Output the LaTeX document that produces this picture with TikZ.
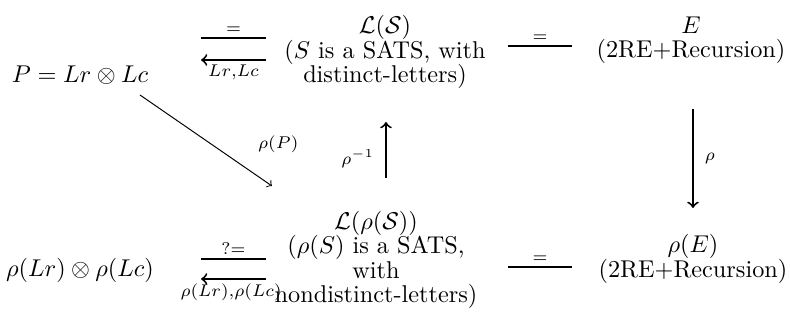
\documentclass[tikz,border=0pt]{standalone}
\usepackage{amsmath}
\begin{document}
\begin{tikzpicture}[x=0.412pt,y=-0.412pt,>=to,auto]

	% Define node styles
	\tikzstyle{term node} = [inner sep=1pt, align=center, font={\fontsize{10}{10.1}\selectfont}]
	\tikzstyle{tag node} = [inner sep=1.5pt, font=\scriptsize]
	\tikzstyle{bar} = [thick]
	\tikzstyle{map} = [thick, ->]

	\useasboundingbox (0,0) rectangle (790,325);

	% Place nodes for the four corners
	\node[term node] (P) at (80,75) {$P = Lr \otimes Lc$};
	\node[term node] (LS) at (385,52) {$\mathcal{L}(\mathcal{S})$\\($S$ is a SATS, with\\distinct-letters)};
	\node[term node] (E) at (691,40) {$E$\\(2RE+Recursion)};

	\node[term node] (rP) at (80,270) {$\rho(Lr) \otimes \rho(Lc)$};
	\node[term node] (rLS) at (376,260) {$\mathcal{L}(\rho(\mathcal{S}))$\\($\rho(S)$ is a SATS,\\with\\nondistinct-letters)};
	\node[term node] (rE) at (693,259) {$\rho(E)$\\(2RE+Recursion)};

	% End points of the short bars
	\coordinate (topA) at (201,38);  \coordinate (topB) at (266,38);
	\coordinate (topC) at (201,60);  \coordinate (topD) at (266,60);
	\coordinate (topE) at (508,46);  \coordinate (topF) at (572,46);
	\coordinate (botA) at (201,259); \coordinate (botB) at (266,259);
	\coordinate (botC) at (201,279); \coordinate (botD) at (266,279);
	\coordinate (botE) at (508,267); \coordinate (botF) at (572,267);

	% Draw the bars between the corners
	\draw[bar] (topA) -- node[tag node, above] {$=$} (topB);
	\draw[map] (topD) -- node[tag node, below] {$Lr{,}Lc$} (topC);
	\draw[bar] (topE) -- node[tag node, above] {$=$} (topF);

	\draw[bar] (botA) -- node[tag node, above] {$?{=}$} (botB);
	\draw[map] (botD) -- node[tag node, below, xshift=-1pt] {$\rho(Lr){,}\rho(Lc)$} (botC);
	\draw[bar] (botE) -- node[tag node, above] {$=$} (botF);

	% Draw the maps between the rows
	\coordinate (dgA) at (140,95);  \coordinate (dgB) at (272,186);
	\coordinate (upA) at (386,178); \coordinate (upB) at (386,122);
	\coordinate (dnA) at (693,109); \coordinate (dnB) at (693,208);

	\path (dgA) edge[->] node[tag node, pos=0.68, above right, xshift=10pt] {$\rho(P)$} (dgB);
	\path (upA) edge[map] node[tag node, pos=0.35, left, xshift=-3pt] {$\rho^{-1}$} (upB);
	\path (dnA) edge[map] node[tag node, pos=0.5, right, xshift=3pt] {$\rho$} (dnB);

\end{tikzpicture}
\end{document}
